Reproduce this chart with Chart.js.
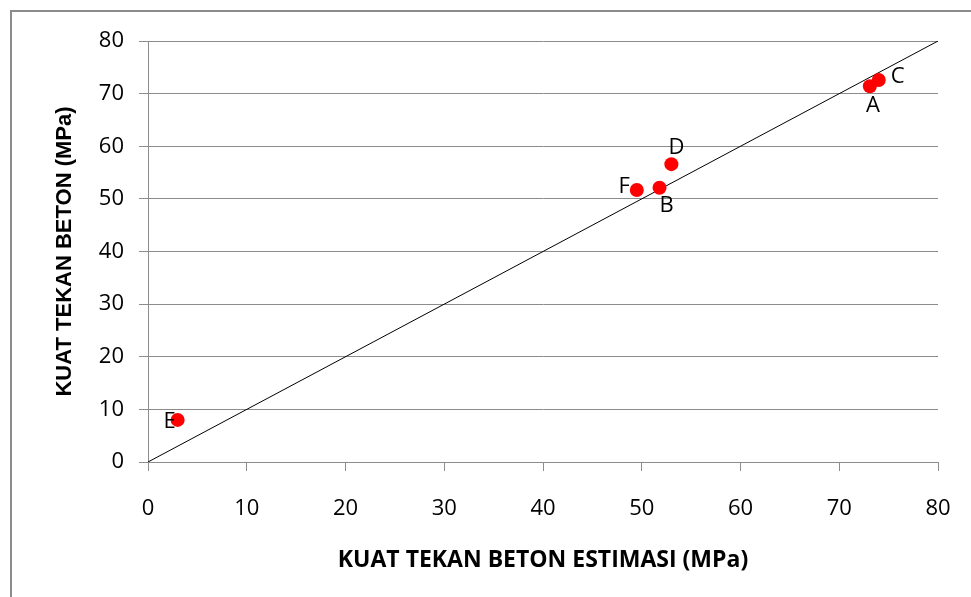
<!DOCTYPE html>
<html>
<head>
<meta charset="utf-8">
<script src="https://cdn.jsdelivr.net/npm/chart.js@4.4.1/dist/chart.umd.min.js"></script>
<style>
  html, body { margin: 0; padding: 0; background: #fff; overflow: hidden; }
  #wrap { position: absolute; left: 0; top: 0; width: 971px; height: 597px; }
  #frame { position: absolute; left: 10px; top: 10px; width: 1100px; height: 800px; border: 2px solid #8c8c8c; box-sizing: border-box; pointer-events: none; }
</style>
</head>
<body>
<div id="wrap">
  <canvas id="c" width="971" height="597"></canvas>
  <div id="frame"></div>
</div>
<script>
const pointLabels = ['A', 'B', 'C', 'D', 'E', 'F'];
const estimatedStrength = [73.1, 51.8, 74.0, 53.0, 3.0, 49.5];
const measuredStrength = [71.4, 52.1, 72.6, 56.6, 8.0, 51.7];
const referenceLineX = [0, 80];
const referenceLineY = [0, 80];
const xTicks = [0, 10, 20, 30, 40, 50, 60, 70, 80];
const yTicks = [0, 10, 20, 30, 40, 50, 60, 70, 80];
const xTitle = 'KUAT TEKAN BETON ESTIMASI (MPa)';
const yTitle = 'KUAT TEKAN BETON (MPa)';

// label placement relative to point (style only)
const labelOffsets = {
  A: { dx: 3, dy: 19, align: 'center' },
  B: { dx: 7, dy: 18, align: 'center' },
  C: { dx: 12, dy: -3, align: 'left' },
  D: { dx: 5, dy: -16, align: 'center' },
  E: { dx: -2, dy: 2, align: 'right' },
  F: { dx: -7, dy: -3, align: 'right' }
};

const FONT = "'Open Sans', 'Liberation Sans', sans-serif";

const labelPlugin = {
  id: 'pointLabels',
  afterDatasetsDraw(chart) {
    const ctx = chart.ctx;
    const xs = chart.scales.x, ys = chart.scales.y;
    ctx.save();
    ctx.font = '22px ' + FONT;
    ctx.fillStyle = '#000';
    ctx.textBaseline = 'middle';
    pointLabels.forEach((lab, i) => {
      const o = labelOffsets[lab];
      const px = xs.getPixelForValue(estimatedStrength[i]);
      const py = ys.getPixelForValue(measuredStrength[i]);
      ctx.textAlign = o.align;
      ctx.fillText(lab, px + o.dx, py + o.dy);
    });
    ctx.restore();
  }
};

new Chart(document.getElementById('c'), {
  type: 'scatter',
  data: {
    datasets: [
      {
        type: 'line',
        data: referenceLineX.map((x, i) => ({ x, y: referenceLineY[i] })),
        borderColor: '#000',
        borderWidth: 1,
        pointRadius: 0,
        fill: false,
        order: 2
      },
      {
        data: estimatedStrength.map((x, i) => ({ x, y: measuredStrength[i] })),
        backgroundColor: '#ff0000',
        borderColor: '#ff0000',
        pointRadius: 7,
        pointBorderWidth: 0,
        order: 1
      }
    ]
  },
  options: {
    responsive: false,
    animation: false,
    devicePixelRatio: 1,
    layout: { padding: { left: 52, right: 33, top: 41, bottom: 20 } },
    plugins: { legend: { display: false }, tooltip: { enabled: false } },
    scales: {
      x: {
        type: 'linear', min: 0, max: 80,
        afterBuildTicks(s) { s.ticks = xTicks.map(v => ({ value: v })); },
        afterFit(s) { s.height = 115; s.paddingLeft = 0; s.paddingRight = 0; },
        grid: { drawOnChartArea: false, drawTicks: true, tickLength: 9, color: '#8c8c8c' },
        border: { display: true, color: '#8c8c8c' },
        ticks: { font: { family: FONT, size: 22 }, color: '#000', padding: 25 },
        title: { display: true, text: xTitle, font: { family: FONT, size: 23, weight: 'bold' }, color: '#000', padding: { top: 10, bottom: 3 } }
      },
      y: {
        type: 'linear', min: 0, max: 80,
        afterBuildTicks(s) { s.ticks = yTicks.map(v => ({ value: v })); },
        afterFit(s) { s.width = 96; s.paddingTop = 0; s.paddingBottom = 0; },
        grid: { drawOnChartArea: true, drawTicks: true, tickLength: 9, color: '#8c8c8c' },
        border: { display: true, color: '#8c8c8c' },
        ticks: { font: { family: FONT, size: 22 }, color: '#000', padding: 15 },
        title: { display: true, text: yTitle, font: { family: "'Liberation Sans', Arial, sans-serif", size: 22, weight: 'bold' }, color: '#000', padding: 0 }
      }
    }
  },
  plugins: [labelPlugin]
});
</script>
</body>
</html>
